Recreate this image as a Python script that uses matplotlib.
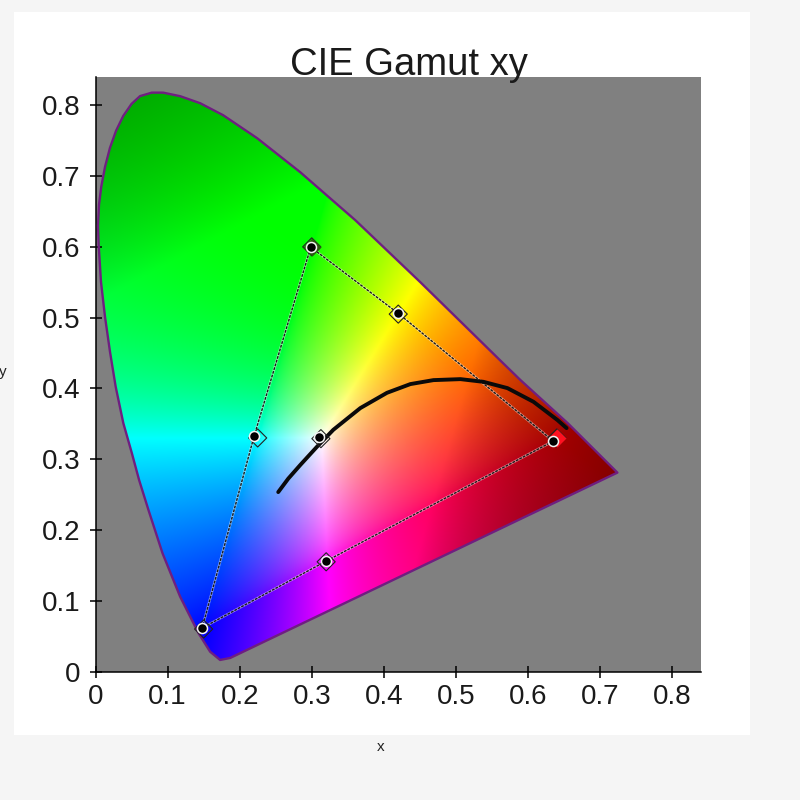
import numpy as np
import matplotlib
matplotlib.use('Agg')
import matplotlib.pyplot as plt
from matplotlib.patches import Polygon, Rectangle

plt.rcParams['font.family'] = ['Liberation Sans', 'DejaVu Sans']

# spectral locus, from the red corner round to the bottom
locus_x = [0.724, 0.655, 0.5896, 0.562, 0.4507, 0.3604, 0.284, 0.2243, 0.1771, 0.1451, 0.1174, 0.0938,
           0.0781, 0.0618, 0.0500, 0.0385, 0.0285, 0.0201, 0.0132, 0.0080, 0.0049, 0.0035, 0.0044, 0.0076,
           0.0132, 0.0201, 0.0280, 0.0386, 0.0503, 0.0605, 0.0735, 0.0930, 0.1174, 0.1428, 0.1590,
           0.1729, 0.1868]
locus_y = [0.281, 0.351, 0.4117, 0.439, 0.550, 0.6377, 0.7055, 0.7535, 0.786, 0.803, 0.8129, 0.8179,
           0.8179, 0.8130, 0.8020, 0.7850, 0.7640, 0.7400, 0.7130, 0.6850, 0.6600, 0.6300, 0.6024, 0.5507,
           0.5012, 0.4518, 0.4024, 0.3509, 0.309, 0.2705, 0.2281, 0.167, 0.1058, 0.0543, 0.028,
           0.0163, 0.0191]

# black curve
curve_x = [0.2535, 0.2674, 0.284, 0.3072, 0.3299, 0.3674, 0.4044, 0.4368, 0.4688, 0.5063, 0.5382, 0.5715, 0.6076, 0.641, 0.6535]
curve_y = [0.2535, 0.2725, 0.2917, 0.3175, 0.3415, 0.3722, 0.3938, 0.4061, 0.4117, 0.4131, 0.4093, 0.4004, 0.3811, 0.3552, 0.3439]

# triangle through the measured points: green, yellow, red, magenta, blue, cyan
tri_x = [0.2986, 0.420, 0.635, 0.320, 0.148, 0.220, 0.2986]
tri_y = [0.5996, 0.506, 0.3255, 0.156, 0.0615, 0.3325, 0.5996]

# measured (dots) and target (diamonds)
dot_x = [0.2986, 0.420, 0.635, 0.320, 0.148, 0.220, 0.310]
dot_y = [0.5996, 0.506, 0.3255, 0.156, 0.0615, 0.3325, 0.331]
dia_x = [0.300, 0.420, 0.640, 0.320, 0.150, 0.225, 0.3127]
dia_y = [0.600, 0.505, 0.330, 0.155, 0.060, 0.330, 0.329]
dia_c = ['#2a5a10', 'none', '#ff1020', 'none', 'none', 'none', 'none']

ticks = [0, 0.1, 0.2, 0.3, 0.4, 0.5, 0.6, 0.7, 0.8]
tick_labels = ['0', '0.1', '0.2', '0.3', '0.4', '0.5', '0.6', '0.7', '0.8']

fig = plt.figure(figsize=(8, 8), dpi=100, facecolor='#f5f5f5')
fig.patches.append(Rectangle((14/800, 65/800), 736/800, 723/800, transform=fig.transFigure,
                             facecolor='white', edgecolor='none', zorder=-1))
ax = fig.add_axes([95.5/800, 128.5/800, 605.5/800, 594.5/800])
ax.set_facecolor('#808080')

# colour fill of the horseshoe
gx, gy = np.meshgrid(np.linspace(0, 0.84, 700), np.linspace(0, 0.84, 700))
gz = 1 - gx - gy
r = 3.2406*gx - 1.5372*gy - 0.4986*gz
g = -0.9689*gx + 1.8758*gy + 0.0415*gz
b = 0.0557*gx - 0.2040*gy + 1.0570*gz
rgb = np.clip(np.stack([r, g, b], axis=-1), 0, None)
top = np.maximum(rgb.max(axis=-1), 1e-6)
rgb = rgb/top[..., None]
# tuned by eye against the reference
r_n, g_n, b_n = rgb[..., 0], rgb[..., 1], rgb[..., 2]
shown = np.stack([r_n**(1 - 0.3*g_n),
                  g_n**(1 - 0.2*b_n - 0.3*r_n),
                  b_n**(1 + 0.5*g_n - 0.2*r_n)], axis=-1)
# gets darker once the channel runs past full scale
shown = shown*np.minimum(1, 1.0/top)[..., None]
im = ax.imshow(np.clip(shown, 0, 1), origin='lower', extent=[0, 0.84, 0, 0.84], aspect='auto',
               interpolation='bilinear')
shoe = Polygon(np.column_stack([locus_x, locus_y]), closed=True, transform=ax.transData,
               facecolor='none', edgecolor='#6f1f80', linewidth=1.7, joinstyle='round', zorder=3)
ax.add_patch(shoe)
im.set_clip_path(shoe)

ax.plot(tri_x, tri_y, color='white', alpha=0.5, lw=1.8, zorder=4)
ax.plot(tri_x, tri_y, color='#1a1a1a', lw=1.0, ls=(0, (2, 0.8)), zorder=4.5)
ax.plot(curve_x, curve_y, color='#0a0a0a', lw=2.8, solid_capstyle='round', zorder=5)
ax.scatter(dia_x, dia_y, marker='D', s=85, c='none', edgecolors='#222222', linewidths=0.8, zorder=6)
for xx, yy, cc in zip(dia_x, dia_y, dia_c):
    if cc != 'none':
        ax.scatter([xx], [yy], marker='D', s=85, color=cc, linewidths=0, zorder=6)
ax.scatter(dot_x, dot_y, s=52, c='black', edgecolors='#f4f4f4', linewidths=1.1, zorder=7)

ax.set_xlim(0, 0.84)
ax.set_ylim(0, 0.84)
ax.set_xticks(ticks)
ax.set_xticklabels(tick_labels)
ax.set_yticks(ticks)
ax.set_yticklabels(tick_labels)
ax.tick_params(axis='both', direction='inout', length=8, width=1.1, labelsize=20, labelcolor='#1a1a1a', pad=5)
ax.tick_params(axis='y', pad=7)
ax.spines['top'].set_visible(False)
ax.spines['right'].set_visible(False)
ax.spines['left'].set_linewidth(1.1)
ax.spines['bottom'].set_linewidth(1.1)

fig.text(409/800, 1 - 75/800, 'CIE Gamut xy', fontsize=27.5, ha='center', va='baseline', color='#1a1a1a')
fig.text(381/800, 1 - 747/800, 'x', fontsize=11, ha='center', va='center', color='#222222')
fig.text(3/800, 1 - 372/800, 'y', fontsize=11, ha='center', va='center', color='#222222')

fig.savefig('out.png', dpi=100, facecolor=fig.get_facecolor())
